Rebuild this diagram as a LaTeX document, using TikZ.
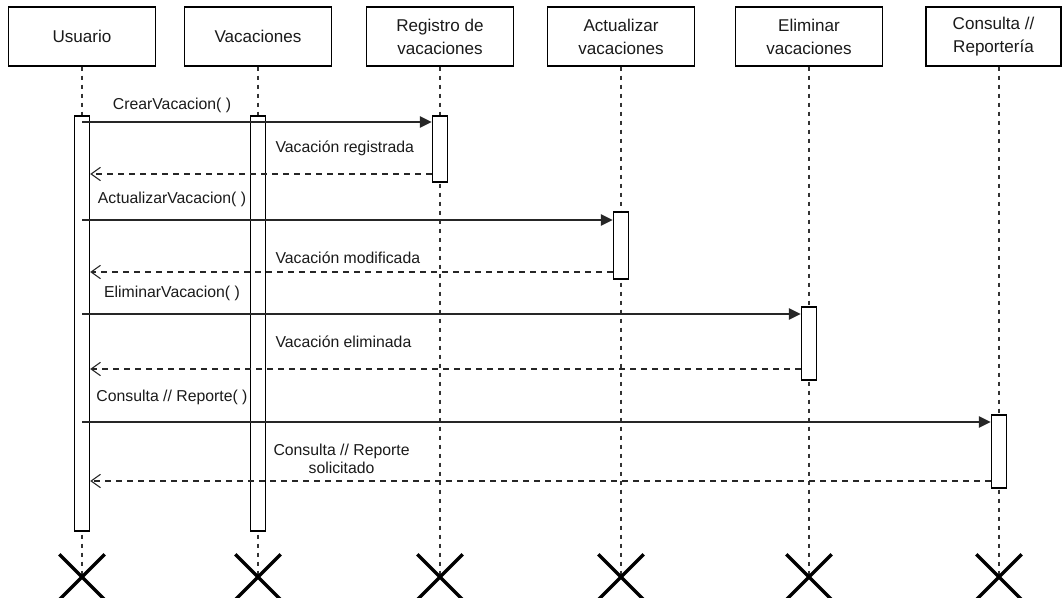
\documentclass[tikz,border=0pt]{standalone}
\usepackage{fontspec}
\setmainfont{Liberation Sans}
\usetikzlibrary{arrows.meta,shapes.misc}

\tikzset{every picture/.style={line width=0.75pt}}
\definecolor{inkgray}{RGB}{26,26,26}
\tikzset{
  hdr/.style={draw=black, line width=1.1pt, fill=white, minimum width=110.25pt, minimum height=44.25pt, inner sep=0pt, align=center, font=\fontsize{12.8}{17.25}\selectfont, text=inkgray},
  actbox/.style={draw=black, line width=1.1pt, fill=white, minimum width=11.25pt, inner sep=0pt},
  lifeline/.style={draw=black!80, line width=1.1pt, dash pattern=on 3pt off 3.75pt},
  msg/.style={draw=black!85, line width=1.4pt, -{Triangle[length=9pt,width=8.5pt]}},
  ret/.style={draw=black!85, line width=1.1pt, dash pattern=on 4.5pt off 3.75pt, -{Straight Barb[length=7pt,width=10pt,line width=0.8pt]}},
  lbl/.style={font=\fontsize{11.85}{13.5}\selectfont, text=inkgray, inner sep=0pt, align=center},
  destroy/.style={cross out, draw=black, line width=2.6pt, minimum size=31.5pt, inner sep=0pt},
}

\begin{document}
\begin{tikzpicture}[x=0.75pt,y=0.75pt,yscale=-1,xscale=1]
\useasboundingbox (0,0) rectangle (1063,598);

%Shape: Lifeline heads
\node[hdr] (usr) at (82,36.5) {Usuario};
\node[hdr] (vac) at (258,36.5) {Vacaciones};
\node[hdr] (reg) at (440,36.5) {Registro de\\vacaciones};
\node[hdr] (act) at (621,36.5) {Actualizar\\vacaciones};
\node[hdr] (eli) at (809,36.5) {Eliminar\\vacaciones};
\node[hdr, minimum width=101.25pt] (con) at (993.5,36.5) {Consulta //\\Reportería};

%Shape: Destroy marks
\coordinate (xUsrC) at (82,577);
\coordinate (xVacC) at (258,577);
\coordinate (xRegC) at (440,577);
\coordinate (xActC) at (621,577);
\coordinate (xEliC) at (809,577);
\coordinate (xConC) at (999,577);

%Shape: Lifelines
\draw[lifeline] (usr.south) -- (xUsrC);
\draw[lifeline] (vac.south) -- (xVacC);
\draw[lifeline] (reg.south) -- (xRegC);
\draw[lifeline] (act.south) -- (xActC);
\draw[lifeline] (eli.south) -- (xEliC);
\draw[lifeline] (xConC |- con.south) -- (xConC);

%Shape: Activation bars
\node[actbox, minimum height=311.25pt] (aUsr) at (82,323.5) {};
\node[actbox, minimum height=311.25pt] (aVac) at (258,323.5) {};
\node[actbox, minimum height=49.5pt] (aReg) at (440,149) {};
\node[actbox, minimum height=50.25pt] (aAct) at (621,245.5) {};
\node[actbox, minimum height=54.75pt] (aEli) at (809,343.5) {};
\node[actbox, minimum height=54.75pt] (aCon) at (999,451.5) {};

%Straight Lines: calls and replies
\draw[msg] (aUsr.center |- 0,122) -- (aReg.west |- 0,122);
\draw[ret] (aReg.west |- 0,174) -- (aUsr.east |- 0,174);
\draw[msg] (aUsr.center |- 0,220) -- (aAct.west |- 0,220);
\draw[ret] (aAct.west |- 0,272) -- (aUsr.east |- 0,272);
\draw[msg] (aUsr.center |- 0,314) -- (aEli.west |- 0,314);
\draw[ret] (aEli.west |- 0,369) -- (aUsr.east |- 0,369);
\draw[msg] (aUsr.center |- 0,422) -- (aCon.west |- 0,422);
\draw[ret] (aCon.west |- 0,481) -- (aUsr.east |- 0,481);

% Text Node
\node[lbl] (lCrear) at (172,105) {CrearVacacion( )};
% Text Node
\node[lbl, anchor=west] (lRegistrada) at (275,148) {Vacación registrada};
% Text Node
\node[lbl] (lActualizar) at (172,199) {ActualizarVacacion( )};
% Text Node
\node[lbl, anchor=west] (lModificada) at (275,258) {Vacación modificada};
% Text Node
\node[lbl] (lEliminar) at (172,293) {EliminarVacacion( )};
% Text Node
\node[lbl, anchor=west] (lEliminada) at (275,342) {Vacación eliminada};
% Text Node
\node[lbl] (lConsulta) at (172,397) {Consulta // Reporte( )};
% Text Node
\node[lbl, anchor=west] (lSolicitado) at (273,459) {Consulta // Reporte\\solicitado};

%Shape: X
\node[destroy] (xUsr) at (xUsrC) {};
\node[destroy] (xVac) at (xVacC) {};
\node[destroy] (xReg) at (xRegC) {};
\node[destroy] (xAct) at (xActC) {};
\node[destroy] (xEli) at (xEliC) {};
\node[destroy] (xCon) at (xConC) {};

\end{tikzpicture}
\end{document}
